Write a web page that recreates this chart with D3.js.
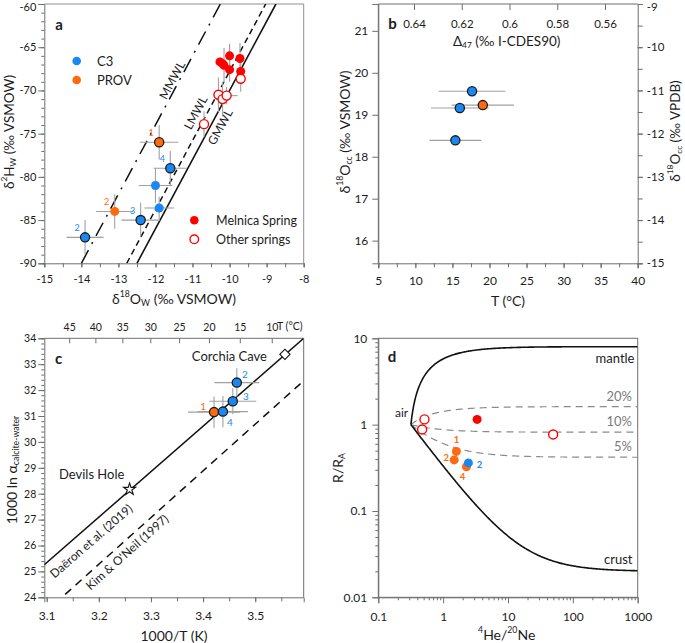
<!DOCTYPE html>
<html><head><meta charset="utf-8">
<script src="https://cdn.jsdelivr.net/npm/d3@7"></script>
<style>body{margin:0;background:#fff}svg{font-family:Lato,'Open Sans',sans-serif;display:block}</style>
</head><body>
<svg id="c" width="685" height="643"></svg>
<script>
// ===================== DATA =====================
// Panel a: water isotopes  [d18O, d2H, err18O, err2H, label]
const aC3Outlined   = [[-13.9,-87,0.5,2,"2"],[-12.4,-85,0.52,2,"3"],[-11.6,-79,0.45,2,"4"]];
const aC3Plain      = [[-12.0,-81,0.45,2,""],[-11.9,-83.6,0.4,1.3,""]];
const aPROVOutlined = [[-11.9,-76,0.52,2,"1"]];
const aPROVPlain    = [[-13.1,-84,0.5,2,"2"]];
const aMelnica      = [[-10.26,-66.7,0,0],[-10.19,-66.9,0,0],[-10.15,-67.1,0,2.0],[-10.0,-66.0,0,1.4],[-10.0,-67.6,0,1.4],[-9.72,-66.3,0,1.8],[-9.70,-67.8,0,1.5]];
const aOtherSprings = [[-10.3,-70.5,0.1,2.0],[-10.19,-71.0,0.1,2.0],[-10.08,-70.6,0.3,1.0],[-10.69,-73.9,0,1.5],[-9.70,-68.65,0,1.5]];
const mwlNames = ["GMWL","LMWL","MMWL"];
const mwlSlope = [8,8,8];
const mwlIntercept = [10,12.2,22];
const aXTicks = [-15,-14,-13,-12,-11,-10,-9,-8];
const aYTicks = [-90,-85,-80,-75,-70,-65,-60];

// Panel b: [T, d18O_cc VSMOW, errT]
const bC3   = [[17.65,19.56,4.5],[16.0,19.16,3.9],[15.4,18.39,3.5]];
const bPROV = [[19.1,19.23,4.2]];
const bXTicks = [5,10,15,20,25,30,35,40];
const bYTicks = [16,17,18,19,20,21];
const bYRTicks = [-15,-14,-13,-12,-11,-10,-9];
const bD47Ticks = [0.64,0.62,0.6,0.58,0.56];

// Panel c: [1000/T, 1000 ln alpha, errX, errY, label]
const cC3   = [[3.4647,32.29,0.043,0.55,"2"],[3.457,31.57,0.045,0.5,"3"],[3.438,31.17,0.048,0.6,"4"]];
const cPROV = [[3.421,31.15,0.05,0.6,"1"]];
const cRefNames = ["Devils Hole","Corchia Cave"];
const cRefX = [3.259,3.557];
const cRefY = [28.17,33.38];
const calibNames = ["Daëron et al. (2019)","Kim & O'Neil (1997)"];
const calibA = [17.57,18.03];
const calibB = [-29.13,-32.42];
const cXTicks = [3.1,3.2,3.3,3.4,3.5];
const cYTicks = [24,25,26,27,28,29,30,31,32,33,34];
const cTopT = [45,40,35,30,25,20,15,10];

// Panel d: [4He/20Ne, R/RA, label]
const dMelnica = [[3.34,1.15]];
const dOther   = [[0.515,1.15],[0.474,0.88],[49.7,0.77]];
const dPROV    = [[1.6,0.49,"1"],[1.48,0.39,"2"],[2.29,0.325,"4"]];
const dC3      = [[2.45,0.36,"2"]];
const airHeNe = 0.318;
const endNames = ["mantle","crust"];
const endR = [8,0.02];
const mixPct = ["20%","10%","5%"];
const mixR = [1.616,0.818,0.419];
const dXTicks = [0.1,1,10,100,1000];
const dYTicks = [0.01,0.1,1,10];

// ===================== STYLE =====================
const svg = d3.select("#c");
const AX="#6e6e6e", BOX="#8f8f8f", TXT="#1c1c1c", ERR="#a0a0a0";
const BLUE="#1a88f2", ORANGE="#ff6a10", RED="#ff0000";

function rich(parent,x,y,parts,size,opt={}){
  const t=parent.append("text").attr("x",x).attr("y",y).attr("font-size",size).attr("fill",opt.fill||TXT)
    .attr("text-anchor",opt.anchor||"middle").attr("dominant-baseline","central");
  if(opt.rotate) t.attr("transform",`rotate(${opt.rotate},${x},${y})`);
  if(opt.weight) t.attr("font-weight",opt.weight);
  let cur=0;
  parts.forEach(p=>{
    const [s,k]=typeof p==="string"?[p,""]:p;
    const off=k==="sup"?-0.36*size:k==="sub"?0.3*size:0;
    const ts=t.append("tspan").attr("dy",off-cur).text(s);
    if(k) ts.attr("font-size",size*0.62);
    cur=off;
  });
  return t;
}
function styleAxis(g,size){
  g.select(".domain").attr("stroke",AX);
  g.selectAll(".tick line").attr("stroke",AX);
  g.selectAll(".tick text").attr("fill",TXT).attr("font-size",size).attr("font-family","Lato,'Open Sans',sans-serif");
}
function minor(g){ g.select(".domain").remove(); g.selectAll(".tick line").attr("stroke",AX); }
const fmt = d=>String(d);

function errBars(g,x,y,rows,ix,iy,iex,iey){
  rows.forEach(r=>{
    if(r[iex]>0) g.append("line").attr("x1",x(r[ix]-r[iex])).attr("x2",x(r[ix]+r[iex])).attr("y1",y(r[iy])).attr("y2",y(r[iy])).attr("stroke",ERR).attr("stroke-width",1.1);
    if(r[iey]>0) g.append("line").attr("x1",x(r[ix])).attr("x2",x(r[ix])).attr("y1",y(r[iy]-r[iey])).attr("y2",y(r[iy]+r[iey])).attr("stroke",ERR).attr("stroke-width",1.1);
  });
}
function dots(g,x,y,rows,fill,stroke,r=4.5,sw=1.2){
  g.selectAll(null).data(rows).join("circle").attr("cx",d=>x(d[0])).attr("cy",d=>y(d[1])).attr("r",r)
    .attr("fill",fill).attr("stroke",stroke).attr("stroke-width",sw);
}

// ===================== PANEL A =====================
{
const g=svg.append("g");
const x=d3.scaleLinear().domain([-15,-8]).range([44.3,303.7]);
const y=d3.scaleLinear().domain([-90,-60]).range([263.3,4]);
g.append("path").attr("d",`M${x(-15)},${y(-60)}H${x(-8)}V${y(-90)}`).attr("fill","none").attr("stroke",BOX);
g.append("g").attr("transform",`translate(0,${y(-90)})`).call(d3.axisBottom(x).tickValues(d3.range(-15,-7.9,0.5)).tickSize(4).tickFormat("")).call(minor);
g.append("g").attr("transform",`translate(0,${y(-90)})`).call(d3.axisBottom(x).tickValues(aXTicks).tickSize(4).tickPadding(8).tickFormat(fmt)).call(s=>styleAxis(s,11));
g.append("g").attr("transform",`translate(${x(-15)},0)`).call(d3.axisLeft(y).tickValues(d3.range(-90,-59,1)).tickSize(3).tickFormat("")).call(minor);
g.append("g").attr("transform",`translate(${x(-15)},0)`).call(d3.axisLeft(y).tickValues(aYTicks).tickSize(6).tickPadding(2).tickFormat(fmt)).call(s=>{styleAxis(s,11);s.selectAll(".tick text").filter(d=>d===-60).attr("dy","0.55em");});
svg.append("clipPath").attr("id","clipA").append("rect").attr("x",x(-15)).attr("y",y(-60)).attr("width",x(-8)-x(-15)).attr("height",y(-90)-y(-60));
const dashes=[null,"6,4","15,7,2,7"];
const lg=g.append("g").attr("clip-path","url(#clipA)");
mwlNames.forEach((n,i)=>{
  const xa=(-90-mwlIntercept[i])/mwlSlope[i], xb=(-60-mwlIntercept[i])/mwlSlope[i];
  lg.append("line").attr("x1",x(xa)).attr("y1",y(-90)).attr("x2",x(xb)).attr("y2",y(-60))
    .attr("stroke","#111").attr("stroke-width",i===0?1.6:1.5).attr("stroke-dasharray",dashes[i]);
});
const pxAng=-Math.atan((y(-90)-y(-82))/(x(-14)-x(-15)))*180/Math.PI;
const lblPos={MMWL:[172,80],LMWL:[195.5,112.5],GMWL:[220,127]};
mwlNames.forEach(n=>{
  g.append("text").attr("x",lblPos[n][0]).attr("y",lblPos[n][1]).attr("font-size",12).attr("fill",TXT)
   .attr("text-anchor","middle").attr("dominant-baseline","central")
   .attr("transform",`rotate(${pxAng},${lblPos[n][0]},${lblPos[n][1]})`).text(n);
});
errBars(g,x,y,aOtherSprings,0,1,2,3);
errBars(g,x,y,aMelnica,0,1,2,3);
const all=[...aC3Outlined,...aC3Plain,...aPROVOutlined,...aPROVPlain];
errBars(g,x,y,all,0,1,2,3);
dots(g,x,y,aMelnica,RED,"none");
dots(g,x,y,aOtherSprings,"#fff",RED,4.5,1.4);
dots(g,x,y,aC3Plain,BLUE,"none");
dots(g,x,y,aPROVPlain,ORANGE,"none");
dots(g,x,y,aC3Outlined,BLUE,"#1a1a1a",4.6,1.3);
dots(g,x,y,aPROVOutlined,ORANGE,"#1a1a1a",4.6,1.3);
[[aC3Outlined,BLUE],[aPROVOutlined,ORANGE],[aPROVPlain,ORANGE]].forEach(([rows,c])=>rows.forEach(r=>{
  g.append("text").attr("x",x(r[0])-8).attr("y",y(r[1])-10).attr("font-size",9).attr("fill",c)
   .attr("text-anchor","middle").attr("dominant-baseline","central").text(r[4]);
}));
// legends
g.append("circle").attr("cx",76.7).attr("cy",61).attr("r",4.3).attr("fill",BLUE);
g.append("text").attr("x",97).attr("y",61).attr("font-size",13).attr("fill",TXT).attr("dominant-baseline","central").text("C3");
g.append("circle").attr("cx",76.7).attr("cy",80).attr("r",4.3).attr("fill",ORANGE);
g.append("text").attr("x",97).attr("y",80).attr("font-size",13).attr("fill",TXT).attr("dominant-baseline","central").text("PROV");
g.append("circle").attr("cx",194.3).attr("cy",220.3).attr("r",4.3).attr("fill",RED);
g.append("text").attr("x",216).attr("y",220.3).attr("font-size",12.5).attr("fill",TXT).attr("dominant-baseline","central").text("Melnica Spring");
g.append("circle").attr("cx",194.3).attr("cy",239.3).attr("r",4.3).attr("fill","#fff").attr("stroke",RED).attr("stroke-width",1.4);
g.append("text").attr("x",216).attr("y",239.3).attr("font-size",12.5).attr("fill",TXT).attr("dominant-baseline","central").text("Other springs");
rich(g,59,24,["a"],15,{weight:"bold"});
rich(g,174,298,["δ",["18","sup"],"O",["W","sub"]," (‰ VSMOW)"],14);
rich(g,9,132,["δ",["2","sup"],"H",["W","sub"]," (‰ VSMOW)"],13.5,{rotate:-90});
}

// ===================== PANEL B =====================
{
const g=svg.append("g");
const x=d3.scaleLinear().domain([5,40]).range([378.3,637.7]);
const yR=d3.scaleLinear().domain([-15,-9]).range([263.3,4]);
const y=d3.scaleLinear().domain([15.46,21.64]).range([263.3,4]);
const xt=d3.scaleLinear().domain([0.64,0.56]).range([414,605]);
g.append("line").attr("x1",x(5)).attr("x2",x(40)).attr("y1",4).attr("y2",4).attr("stroke",AX);
g.append("g").attr("transform",`translate(0,4)`).call(d3.axisBottom(xt).tickValues(bD47Ticks).tickSize(6).tickPadding(10).tickFormat(fmt)).call(s=>{styleAxis(s,11.5);s.select(".domain").remove();});
g.append("g").attr("transform",`translate(0,263.3)`).call(d3.axisBottom(x).tickValues(d3.range(5,40.1,2.5)).tickSize(4).tickFormat("")).call(minor);
g.append("g").attr("transform",`translate(0,263.3)`).call(d3.axisBottom(x).tickValues(bXTicks).tickSize(5).tickPadding(8).tickFormat(fmt)).call(s=>styleAxis(s,12));
g.append("g").attr("transform",`translate(378.3,0)`).call(d3.axisLeft(y).tickValues(bYTicks).tickSize(6).tickPadding(4).tickFormat(fmt)).call(s=>styleAxis(s,12));
g.append("g").attr("transform",`translate(637.7,0)`).call(d3.axisRight(yR).tickValues(d3.range(-15,-8.9,0.5)).tickSize(5).tickFormat("")).call(minor);
g.append("g").attr("transform",`translate(637.7,0)`).call(d3.axisRight(yR).tickValues(bYRTicks).tickSize(5).tickPadding(4).tickFormat(fmt)).call(s=>{styleAxis(s,11.5);s.selectAll(".tick text").filter(d=>d===-9).attr("dy","0.55em");});
g.append("line").attr("x1",378.3).attr("x2",378.3).attr("y1",4).attr("y2",263.3).attr("stroke",AX);
g.selectAll(null).data([...bC3,...bPROV]).join("line").attr("x1",d=>x(d[0]-d[2])).attr("x2",d=>x(d[0]+d[2]))
  .attr("y1",d=>y(d[1])).attr("y2",d=>y(d[1])).attr("stroke",ERR).attr("stroke-width",1.1);
dots(g,x,y,bC3,BLUE,"#1a1a1a",4.6,1.3);
dots(g,x,y,bPROV,ORANGE,"#1a1a1a",4.6,1.3);
rich(g,392.5,22.5,["b"],15,{weight:"bold"});
rich(g,506.7,41,["Δ",["47","sub"]," (‰ I-CDES90)"],13.5);
rich(g,508,300,["T (°C)"],14);
rich(g,344,132,["δ",["18","sup"],"O",["cc","sub"]," (‰ VSMOW)"],14,{rotate:-90});
rich(g,675,131,["δ",["18","sup"],"O",["cc","sub"]," (‰ VPDB)"],13.5,{rotate:-90});
}

// ===================== PANEL C =====================
{
const g=svg.append("g");
const x=d3.scaleLinear().domain([3.0954,3.593]).range([44.3,303.7]);
const y=d3.scaleLinear().domain([24,34]).range([597.3,338.3]);
g.append("path").attr("d",`M${x.range()[0]},338.3H303.7V597.3`).attr("fill","none").attr("stroke",AX);
const tx=cTopT.map(t=>1000/(t+273.15));
g.append("g").attr("transform",`translate(0,338.3)`).call(d3.axisTop(x).tickValues(tx).tickSize(-5).tickPadding(7).tickFormat((d,i)=>cTopT[i])).call(s=>{styleAxis(s,10.5);s.select(".domain").remove();});
g.append("text").attr("x",277).attr("y",330).attr("font-size",10.5).attr("fill",TXT).text("T (°C)");
g.append("g").attr("transform",`translate(0,597.3)`).call(d3.axisBottom(x).tickValues(d3.range(3.1,3.5501,0.05)).tickSize(4).tickFormat("")).call(minor);
g.append("g").attr("transform",`translate(0,597.3)`).call(d3.axisBottom(x).tickValues(cXTicks).tickSize(5).tickPadding(9).tickFormat(fmt)).call(s=>styleAxis(s,12));
g.append("g").attr("transform",`translate(44.3,0)`).call(d3.axisLeft(y).tickValues(d3.range(24,34.01,0.2)).tickSize(3).tickFormat("")).call(minor);
g.append("g").attr("transform",`translate(44.3,0)`).call(d3.axisLeft(y).tickValues(cYTicks).tickSize(6).tickPadding(2).tickFormat(fmt)).call(s=>styleAxis(s,10.5));
svg.append("clipPath").attr("id","clipC").append("rect").attr("x",44.3).attr("y",338.3).attr("width",259.4).attr("height",259);
const cg=g.append("g").attr("clip-path","url(#clipC)");
calibNames.forEach((n,i)=>{
  const f=v=>calibA[i]*v+calibB[i];
  cg.append("line").attr("x1",x(3.0954)).attr("y1",y(f(3.0954))).attr("x2",x(3.593)).attr("y2",y(f(3.593)))
    .attr("stroke","#111").attr("stroke-width",1.5).attr("stroke-dasharray",i===1?"8,6":null);
});
const cang=i=>-Math.atan((y(0)-y(calibA[i]*0.1))/(x(3.2)-x(3.1)))*180/Math.PI;
const cpos=[[91,541],[127,552]];
calibNames.forEach((n,i)=>{
  g.append("text").attr("x",cpos[i][0]).attr("y",cpos[i][1]).attr("font-size",12).attr("fill",TXT)
   .attr("text-anchor","middle").attr("dominant-baseline","central")
   .attr("transform",`rotate(${cang(i)},${cpos[i][0]},${cpos[i][1]})`).text(n);
});
const all=[...cC3,...cPROV];
errBars(g,x,y,all,0,1,2,3);
dots(g,x,y,cPROV,ORANGE,"#1a1a1a",4.6,1.3);
dots(g,x,y,cC3,BLUE,"#1a1a1a",4.6,1.3);
const off={"2":[8,-9],"3":[13,-5],"4":[7,10],"1":[-11,-6]};
[[cC3,BLUE],[cPROV,ORANGE]].forEach(([rows,c])=>rows.forEach(r=>{
  g.append("text").attr("x",x(r[0])+off[r[4]][0]).attr("y",y(r[1])+off[r[4]][1]).attr("font-size",10).attr("fill",c)
   .attr("text-anchor","middle").attr("dominant-baseline","central").text(r[4]);
}));
g.append("path").attr("d",d3.symbol(d3.symbolStar,44)()).attr("transform",`translate(${x(cRefX[0])},${y(cRefY[0])})`)
  .attr("fill","#fff").attr("stroke","#111").attr("stroke-width",1.1);
g.append("path").attr("d",d3.symbol(d3.symbolSquare,52)()).attr("transform",`translate(${x(cRefX[1])},${y(cRefY[1])}) rotate(45)`)
  .attr("fill","#fff").attr("stroke","#111").attr("stroke-width",1.1);
g.append("text").attr("x",59).attr("y",474).attr("font-size",13).attr("fill",TXT).attr("dominant-baseline","central").text(cRefNames[0]);
g.append("text").attr("x",267).attr("y",355.5).attr("font-size",13).attr("fill",TXT).attr("text-anchor","end").attr("dominant-baseline","central").text(cRefNames[1]);
rich(g,58.5,357.5,["c"],15,{weight:"bold"});
rich(g,174,635,["1000/T (K)"],14);
rich(g,11,470,["1000 ln α",["calcite-water","sub"]],14,{rotate:-90});
}

// ===================== PANEL D =====================
{
const g=svg.append("g");
const x=d3.scaleLog().domain([0.1,1000]).range([378.3,637.7]);
const y=d3.scaleLog().domain([0.01,10]).range([597.3,338.3]);
g.append("rect").attr("x",378.3).attr("y",338.3).attr("width",259.4).attr("height",259).attr("fill","none").attr("stroke",AX);
const minorX=[];dXTicks.slice(0,-1).forEach(t=>{for(let k=2;k<10;k++)minorX.push(t*k);});
const minorY=[];dYTicks.slice(0,-1).forEach(t=>{for(let k=2;k<10;k++)minorY.push(t*k);});
g.append("g").attr("transform",`translate(0,597.3)`).call(d3.axisBottom(x).tickValues(minorX).tickSize(3).tickFormat("")).call(minor);
g.append("g").attr("transform",`translate(0,597.3)`).call(d3.axisBottom(x).tickValues(dXTicks).tickSize(6).tickPadding(9).tickFormat(fmt)).call(s=>styleAxis(s,12));
g.append("g").attr("transform",`translate(378.3,0)`).call(d3.axisLeft(y).tickValues(minorY).tickSize(3).tickFormat("")).call(minor);
g.append("g").attr("transform",`translate(378.3,0)`).call(d3.axisLeft(y).tickValues(dYTicks).tickSize(6).tickPadding(5).tickFormat(fmt)).call(s=>styleAxis(s,12));
svg.append("clipPath").attr("id","clipD").append("rect").attr("x",378.3).attr("y",338.3).attr("width",259.4).attr("height",259);
const cg=g.append("g").attr("clip-path","url(#clipD)");
const xs=d3.range(0,241).map(i=>airHeNe*Math.pow(1000/airHeNe,i/240));
const mix=(X,Re)=>Re-(Re-1)*airHeNe/X;
const line=d3.line().x(d=>x(d[0])).y(d=>y(d[1]));
mixR.forEach(Re=>{
  cg.append("path").attr("d",line(xs.map(X=>[X,mix(X,Re)]))).attr("fill","none").attr("stroke","#8a8a8a").attr("stroke-width",1.2).attr("stroke-dasharray","7,5");
});
endR.forEach(Re=>{
  cg.append("path").attr("d",line(xs.map(X=>[X,mix(X,Re)]))).attr("fill","none").attr("stroke","#111").attr("stroke-width",1.6);
});
dots(g,x,y,dOther,"#fff",RED,4.5,1.4);
dots(g,x,y,dMelnica,RED,"none",4.5);
dots(g,x,y,dPROV,ORANGE,"none",4.5);
dots(g,x,y,dC3,BLUE,"none",4.5);
const offO={"1":[0,-12],"2":[-8,-2],"4":[-4,10]};
dPROV.forEach(r=>g.append("text").attr("x",x(r[0])+offO[r[2]][0]).attr("y",y(r[1])+offO[r[2]][1]).attr("font-size",9.5).attr("font-weight","bold").attr("fill",ORANGE).attr("text-anchor","middle").attr("dominant-baseline","central").text(r[2]));
dC3.forEach(r=>g.append("text").attr("x",x(r[0])+11).attr("y",y(r[1])+2).attr("font-size",9.5).attr("font-weight","bold").attr("fill",BLUE).attr("text-anchor","middle").attr("dominant-baseline","central").text(r[2]));
const pctY=[396,420.7,446];
mixPct.forEach((p,i)=>g.append("text").attr("x",632).attr("y",pctY[i]).attr("font-size",13).attr("fill","#7a7a7a").attr("text-anchor","end").attr("dominant-baseline","central").text(p));
g.append("text").attr("x",634.5).attr("y",358.3).attr("font-size",13).attr("fill",TXT).attr("text-anchor","end").attr("dominant-baseline","central").text(endNames[0]);
g.append("text").attr("x",632.5).attr("y",559.3).attr("font-size",13).attr("fill",TXT).attr("text-anchor","end").attr("dominant-baseline","central").text(endNames[1]);
g.append("text").attr("x",395).attr("y",412).attr("font-size",12).attr("fill",TXT).attr("dominant-baseline","central").text("air");
rich(g,392,356,["d"],15,{weight:"bold"});
rich(g,506.7,634,[["4","sup"],"He/",["20","sup"],"Ne"],14);
rich(g,337,468,["R/R",["A","sub"]],14,{rotate:-90});
}
</script>
</body></html>
